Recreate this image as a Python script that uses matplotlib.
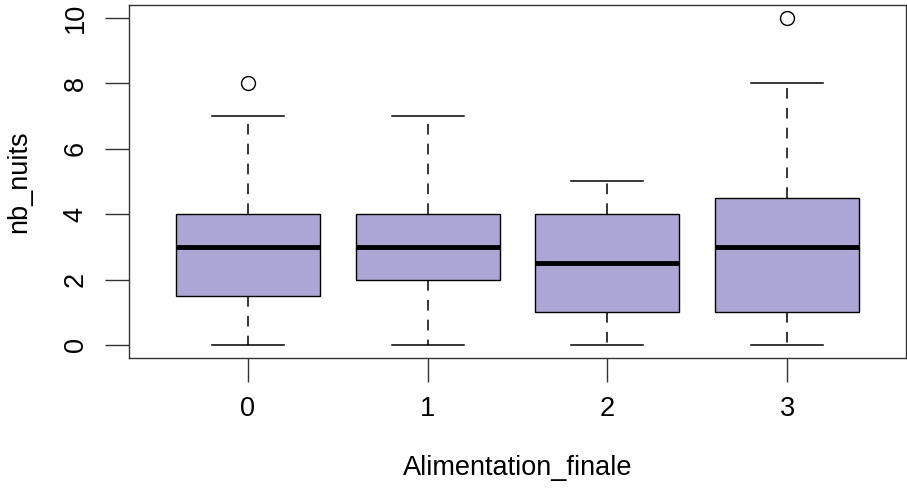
import matplotlib
matplotlib.use("Agg")
import matplotlib.pyplot as plt

plt.rcParams['font.family'] = ['Liberation Sans', 'DejaVu Sans']

categories = ["0", "1", "2", "3"]
whislo = [0, 0, 0, 0]
q1 = [1.5, 2, 1, 1]
med = [3, 3, 2.5, 3]
q3 = [4, 4, 4, 4.5]
whishi = [7, 7, 5, 8]
fliers = [[8], [], [], [10]]
yticks = [0, 2, 4, 6, 8, 10]

stats = []
for i, c in enumerate(categories):
    stats.append(dict(label=c, whislo=whislo[i], q1=q1[i], med=med[i],
                      q3=q3[i], whishi=whishi[i], fliers=fliers[i]))

fig = plt.figure(figsize=(9.07, 4.90), dpi=100)
ax = fig.add_axes([129/907, 1-358/490, (906-129)/907, (358-5)/490])

fill = '#aba6d5'
ax.bxp(stats, positions=[1, 2, 3, 4], widths=0.8, patch_artist=True,
       boxprops=dict(facecolor=fill, edgecolor='black', linewidth=1.0),
       medianprops=dict(color='black', linewidth=3.5, solid_capstyle='butt'),
       whiskerprops=dict(color='black', linewidth=1.1, linestyle=(0, (7, 6))),
       capprops=dict(color='black', linewidth=1.1),
       capwidths=0.4,
       flierprops=dict(marker='o', markerfacecolor='white', markeredgecolor='black',
                       markersize=10, markeredgewidth=1.0))

ax.set_xlim(0.34, 4.66)
ax.set_ylim(-0.4, 10.4)
ax.set_yticks(yticks)
ax.set_yticklabels([str(v) for v in yticks], rotation=90, va='center')
ax.set_xticks([1, 2, 3, 4])
ax.set_xticklabels(categories)
ax.tick_params(axis='both', length=17, width=1, labelsize=19.5, color='#333333')
ax.tick_params(axis='y', pad=12)
ax.tick_params(axis='x', pad=10)
for s in ax.spines.values():
    s.set_linewidth(1.0)
    s.set_color('#333333')

ax.set_xlabel("Alimentation_finale", fontsize=19.5, labelpad=24)
ax.set_ylabel("nb_nuits", fontsize=19.5, labelpad=22)

fig.savefig("out.png", dpi=100)
